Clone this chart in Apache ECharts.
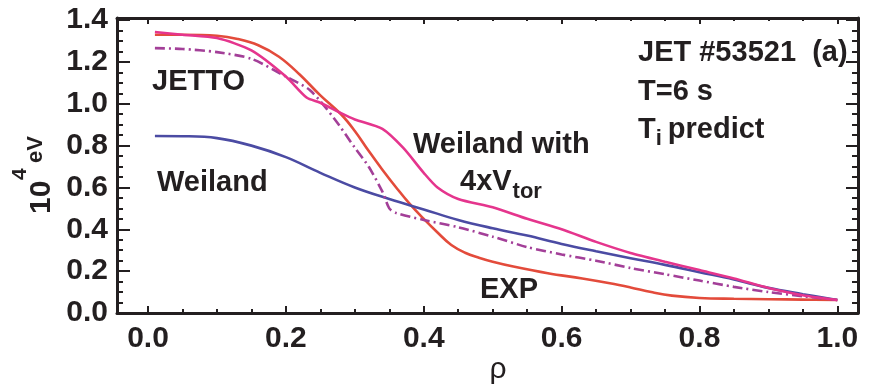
<!DOCTYPE html>
<html>
<head>
<meta charset="utf-8">
<script src="https://cdn.jsdelivr.net/npm/echarts@6/dist/echarts.min.js"></script>
<style>html,body{margin:0;padding:0;background:#fff}#c{width:869px;height:387px}</style>
</head>
<body>
<div id="c"></div>
<script>
// ---- data (rho, Ti in 10^4 eV) ----
var expRho = [0.01,0.05,0.10,0.13,0.16,0.19,0.22,0.25,0.28,0.30,0.32,0.34,0.36,0.38,0.40,0.42,0.44,0.46,0.48,0.50,0.53,0.58,0.63,0.67,0.70,0.73,0.76,0.80,0.85,0.90,0.95,1.00];
var expTi  = [1.33,1.33,1.325,1.31,1.28,1.225,1.14,1.04,0.95,0.87,0.775,0.685,0.60,0.52,0.45,0.385,0.325,0.288,0.264,0.245,0.222,0.19,0.165,0.142,0.122,0.10,0.083,0.072,0.068,0.066,0.064,0.062];

var weiRho = [0.01,0.05,0.10,0.15,0.20,0.25,0.30,0.35,0.40,0.45,0.50,0.55,0.60,0.65,0.70,0.75,0.80,0.85,0.90,0.95,1.00];
var weiTi  = [0.846,0.845,0.836,0.80,0.745,0.67,0.60,0.545,0.495,0.445,0.405,0.37,0.33,0.295,0.262,0.23,0.195,0.16,0.12,0.09,0.062];

var vtorRho = [0.01,0.05,0.10,0.15,0.20,0.23,0.25,0.28,0.30,0.34,0.37,0.40,0.42,0.45,0.50,0.55,0.60,0.65,0.70,0.75,0.80,0.85,0.90,0.95,1.00];
var vtorTi  = [1.343,1.33,1.314,1.255,1.13,1.03,1.005,0.955,0.925,0.88,0.79,0.67,0.60,0.545,0.505,0.45,0.40,0.34,0.287,0.245,0.205,0.165,0.12,0.085,0.062];

var jettoRho = [0.01,0.05,0.10,0.15,0.20,0.235,0.27,0.30,0.32,0.34,0.35,0.36,0.40,0.45,0.50,0.55,0.60,0.65,0.70,0.75,0.80,0.85,0.90,0.95,1.00];
var jettoTi  = [1.266,1.262,1.247,1.215,1.13,1.065,0.93,0.79,0.70,0.58,0.50,0.478,0.445,0.41,0.365,0.315,0.28,0.25,0.215,0.185,0.155,0.125,0.10,0.08,0.062];

var xMajor = [0.0,0.2,0.4,0.6,0.8,1.0];
var xMinor = [0.05,0.10,0.15,0.25,0.30,0.35,0.45,0.50,0.55,0.65,0.70,0.75,0.85,0.90,0.95];
var yMajor = [0.0,0.2,0.4,0.6,0.8,1.0,1.2,1.4];
var yMinor = [0.05,0.10,0.15,0.25,0.30,0.35,0.45,0.50,0.55,0.65,0.70,0.75,0.85,0.90,0.95,1.05,1.10,1.15,1.25,1.30,1.35];

function pairs(a,b){return a.map(function(v,i){return [v,b[i]];});}

var INK = '#231f20';
var FONT = 'Liberation Sans, Arial, sans-serif';
var X_MIN = -0.045, X_MAX = 1.03, Y_MIN = 0, Y_MAX = 1.41;

function xAx(pos, vals, len, line, labels){
  return {
    type:'value', position:pos, min:X_MIN, max:X_MAX,
    axisLine:{show:line, onZero:false, lineStyle:{color:INK,width:3}},
    axisTick:{show:true, inside:true, length:len, customValues:vals, lineStyle:{color:INK,width:2}},
    axisLabel:{show:labels, customValues:vals, margin:11, color:INK, fontFamily:FONT, fontWeight:'bold', fontSize:30,
      formatter:function(v){return v.toFixed(1);}},
    splitLine:{show:false}
  };
}
function yAx(pos, vals, len, line, labels){
  return {
    type:'value', position:pos, min:Y_MIN, max:Y_MAX,
    axisLine:{show:line, onZero:false, lineStyle:{color:INK,width:3}},
    axisTick:{show:true, inside:true, length:len, customValues:vals, lineStyle:{color:INK,width:2}},
    axisLabel:{show:labels, customValues:vals, margin:9, color:INK, fontFamily:FONT, fontWeight:'bold', fontSize:30,
      formatter:function(v){return v.toFixed(1);}},
    splitLine:{show:false}
  };
}

function line(name, data, color, type, sm){
  return {
    name:name, type:'line', xAxisIndex:0, yAxisIndex:0, data:data,
    showSymbol:false, symbol:'none', smooth:sm, animation:false,
    lineStyle:{color:color, width:2.6, type:type||'solid'}, z:3
  };
}

var chart = echarts.init(document.getElementById('c'), null, {renderer:'canvas'});

var meas = document.createElement('canvas').getContext('2d');
function tw(txt, size){ meas.font = 'bold ' + size + 'px ' + FONT; return meas.measureText(txt).width; }

function txt(t, x, yBase, size, weight){
  return {type:'text', x:x, y:yBase - 0.35*size, z:10,
    style:{text:t, fill:INK, font:(weight||'bold') + ' ' + size + 'px ' + FONT, align:'left', verticalAlign:'middle'}};
}

var S = 29, SS = 22;
var graphics = [
  txt('JETTO', 152, 92, S),
  txt('Weiland', 157, 193, S),
  txt('Weiland with', 413, 155, S),
  txt('4xV', 460, 192, S),
  txt('tor', 460 + tw('4xV', S) + 1, 200, SS),
  txt('EXP', 480, 300, S),
  txt('JET #53521  (a)', 638, 63, S),
  txt('T=6 s', 638, 102, S),
  txt('T', 638, 140, S),
  txt('i', 638 + tw('T', S), 147, SS),
  txt('predict', 638 + tw('T', S) + tw('i', SS) + 6, 140, S),
  // x axis title
  {type:'text', x:498, y:370, z:10, style:{text:'ρ', fill:INK, font:'normal 30px ' + FONT, align:'center', verticalAlign:'middle'}},
  // y axis title (rotated)
  {type:'text', x:42, y:214, rotation:Math.PI/2, z:10, style:{text:'10', fill:INK, font:'bold 30px ' + FONT, align:'left', verticalAlign:'middle'}},
  {type:'text', x:20, y:180, rotation:Math.PI/2, z:10, style:{text:'4', fill:INK, font:'bold 21px ' + FONT, align:'left', verticalAlign:'middle'}},
  {type:'text', x:36, y:163, rotation:Math.PI/2, z:10, style:{text:'eV', fill:INK, font:'bold 22px ' + FONT, align:'left', verticalAlign:'middle'}}
];

chart.setOption({
  animation:false,
  backgroundColor:'#ffffff',
  grid:{left:117, right:11, top:18, bottom:74, containLabel:false},
  xAxis:[
    xAx('bottom', xMajor, 7, true, true),
    xAx('bottom', xMinor, 4, false, false),
    xAx('top', xMajor, 6, true, false),
    xAx('top', xMinor, 3, false, false)
  ],
  yAxis:[
    yAx('left', yMajor, 13, true, true),
    yAx('left', yMinor, 6, false, false),
    yAx('right', yMajor, 12, true, false),
    yAx('right', yMinor, 6, false, false)
  ],
  series:[
    line('EXP', pairs(expRho, expTi), '#e34b3b', 'solid', 0.4),
    line('Weiland', pairs(weiRho, weiTi), '#4b4ba3', 'solid', 0.4),
    line('JETTO', pairs(jettoRho, jettoTi), '#a33f98', [10,4,2,4], 0.25),
    line('Weiland with 4xVtor', pairs(vtorRho, vtorTi), '#e5358d', 'solid', 0.25)
  ],
  graphic:graphics
});
</script>
</body>
</html>
